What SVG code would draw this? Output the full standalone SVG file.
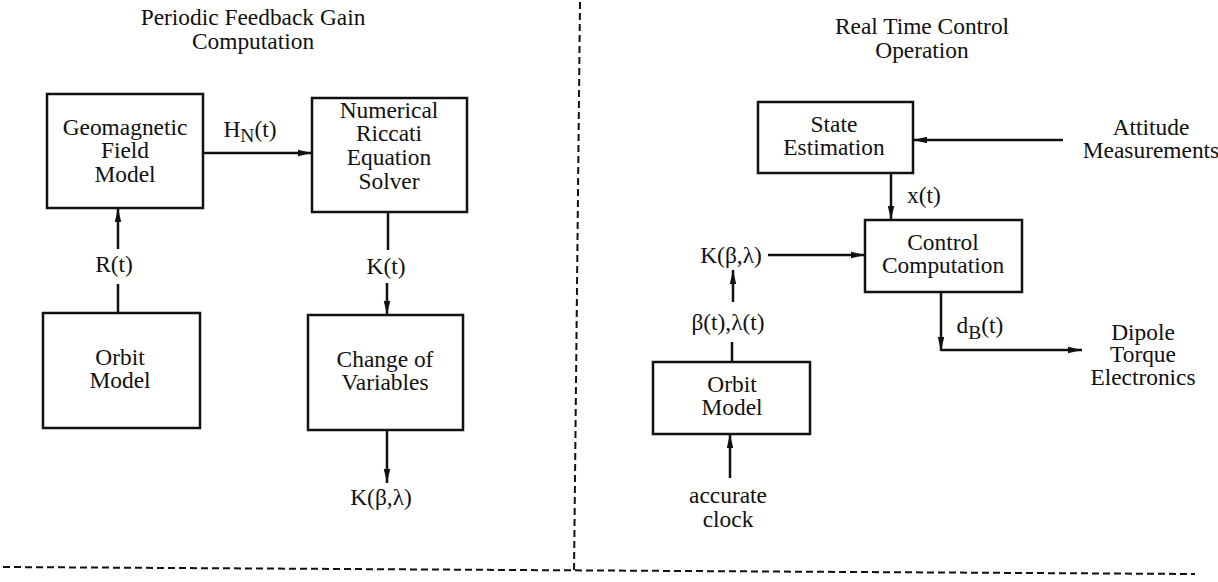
<svg xmlns="http://www.w3.org/2000/svg" width="1218" height="582" viewBox="0 0 1218 582">
<style>
  text { font-family: "Times New Roman", "Liberation Serif", serif; font-size: 23.4px; fill: #111; text-anchor: middle; }
  .box { fill: none; stroke: #111; stroke-width: 2.5; }
  .ln { fill: none; stroke: #111; stroke-width: 2.5; }
  .arr { fill: none; stroke: #111; stroke-width: 2.5; marker-end: url(#ah); }
  .dash { fill: none; stroke: #111; stroke-width: 2; stroke-dasharray: 7 4; }
  .sub { font-size: 19.5px; }
</style>
<defs>
  <marker id="ah" markerUnits="userSpaceOnUse" markerWidth="16" markerHeight="8" refX="14" refY="4" orient="auto">
    <path d="M0,0.8 L14,4 L0,7.2 z" fill="#111"/>
  </marker>
</defs>

<g id="dividers">
  <line class="dash" x1="580" y1="2" x2="574" y2="574"/>
  <line class="dash" x1="3" y1="567" x2="1195" y2="574"/>
</g>

<g id="geomagnetic">
  <rect class="box" x="47" y="94" width="156" height="114"/>
  <text style="font-family:'Times New Roman','Liberation Serif',serif" x="125" y="135">Geomagnetic</text>
  <text style="font-family:'Times New Roman','Liberation Serif',serif" x="125" y="158">Field</text>
  <text style="font-family:'Times New Roman','Liberation Serif',serif" x="125" y="182">Model</text>
</g>

<g id="riccati">
  <rect class="box" x="312" y="98" width="155" height="114"/>
  <text style="font-family:'Times New Roman','Liberation Serif',serif" x="389" y="118">Numerical</text>
  <text style="font-family:'Times New Roman','Liberation Serif',serif" x="389" y="141">Riccati</text>
  <text style="font-family:'Times New Roman','Liberation Serif',serif" x="389" y="165">Equation</text>
  <text style="font-family:'Times New Roman','Liberation Serif',serif" x="389" y="189">Solver</text>
</g>

<g id="orbit-left">
  <rect class="box" x="43" y="313" width="157" height="115"/>
  <text style="font-family:'Times New Roman','Liberation Serif',serif" x="120" y="365">Orbit</text>
  <text style="font-family:'Times New Roman','Liberation Serif',serif" x="120" y="388">Model</text>
</g>

<g id="change-vars">
  <rect class="box" x="308" y="315" width="155" height="115"/>
  <text style="font-family:'Times New Roman','Liberation Serif',serif" x="385" y="367">Change of</text>
  <text style="font-family:'Times New Roman','Liberation Serif',serif" x="385" y="390">Variables</text>
</g>

<g id="state-est">
  <rect class="box" x="758" y="102" width="155" height="71"/>
  <text style="font-family:'Times New Roman','Liberation Serif',serif" x="834" y="132">State</text>
  <text style="font-family:'Times New Roman','Liberation Serif',serif" x="834" y="155">Estimation</text>
</g>

<g id="control-comp">
  <rect class="box" x="865" y="220" width="157" height="72"/>
  <text style="font-family:'Times New Roman','Liberation Serif',serif" x="943" y="250">Control</text>
  <text style="font-family:'Times New Roman','Liberation Serif',serif" x="943" y="273">Computation</text>
</g>

<g id="orbit-right">
  <rect class="box" x="653" y="362" width="157" height="72"/>
  <text style="font-family:'Times New Roman','Liberation Serif',serif" x="732" y="392">Orbit</text>
  <text style="font-family:'Times New Roman','Liberation Serif',serif" x="732" y="415">Model</text>
</g>

<g id="external-labels">
  <text style="font-family:'Times New Roman','Liberation Serif',serif" x="1151" y="135">Attitude</text>
  <text style="font-family:'Times New Roman','Liberation Serif',serif" x="1151" y="158">Measurements</text>
  <text style="font-family:'Times New Roman','Liberation Serif',serif" x="1143" y="340">Dipole</text>
  <text style="font-family:'Times New Roman','Liberation Serif',serif" x="1143" y="362">Torque</text>
  <text style="font-family:'Times New Roman','Liberation Serif',serif" x="1143" y="385">Electronics</text>
  <text style="font-family:'Times New Roman','Liberation Serif',serif" x="728" y="503">accurate</text>
  <text style="font-family:'Times New Roman','Liberation Serif',serif" x="728" y="527">clock</text>
</g>

<g id="connectors">
  <line class="arr" x1="203" y1="153" x2="312" y2="153"/>
  <text style="font-family:'Times New Roman','Liberation Serif',serif" x="250" y="137">H<tspan class="sub" dy="5">N</tspan><tspan dy="-5">(t)</tspan></text>
  <line class="ln" x1="118" y1="313" x2="118" y2="284"/>
  <line class="arr" x1="118" y1="249" x2="118" y2="208"/>
  <text style="font-family:'Times New Roman','Liberation Serif',serif" x="114" y="272">R(t)</text>
  <line class="ln" x1="388" y1="212" x2="388" y2="250"/>
  <line class="arr" x1="387" y1="283" x2="387" y2="315"/>
  <text style="font-family:'Times New Roman','Liberation Serif',serif" x="386" y="274">K(t)</text>
  <line class="arr" x1="387" y1="430" x2="387" y2="483"/>
  <text style="font-family:'Times New Roman','Liberation Serif',serif" x="381" y="505">K(β,λ)</text>
  <line class="arr" x1="1063" y1="140" x2="913" y2="140"/>
  <line class="arr" x1="891" y1="173" x2="891" y2="220"/>
  <text style="font-family:'Times New Roman','Liberation Serif',serif" x="924" y="203">x(t)</text>
  <line class="arr" x1="768" y1="255" x2="865" y2="255"/>
  <text style="font-family:'Times New Roman','Liberation Serif',serif" x="731" y="263">K(β,λ)</text>
  <line class="ln" x1="732" y1="362" x2="732" y2="342"/>
  <line class="arr" x1="733" y1="302" x2="733" y2="270"/>
  <text style="font-family:'Times New Roman','Liberation Serif',serif" x="728" y="330">β(t),λ(t)</text>
  <line class="arr" x1="730" y1="478" x2="730" y2="434"/>
  <line class="arr" x1="941" y1="292" x2="941" y2="351"/>
  <line class="arr" x1="941" y1="350" x2="1082" y2="350"/>
  <text style="font-family:'Times New Roman','Liberation Serif',serif" x="980" y="333">d<tspan class="sub" dy="6">B</tspan><tspan dy="-6">(t)</tspan></text>
</g>

<g id="titles">
  <text x="253" y="25">Periodic Feedback Gain</text>
  <text x="253" y="49">Computation</text>
  <text x="922" y="34">Real Time Control</text>
  <text x="922" y="58">Operation</text>
</g>
</svg>
